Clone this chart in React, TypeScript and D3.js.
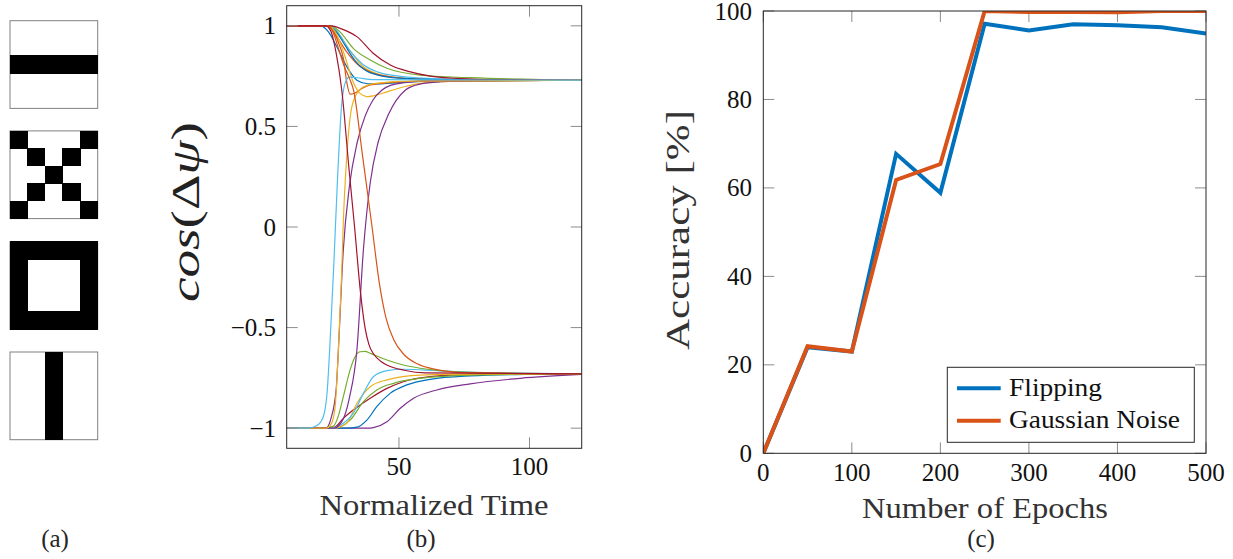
import React from "react";
import * as d3 from "d3";

// ---------- Panel (a): 5x5 binary patterns ----------
const patternBar = [
  [0, 0, 0, 0, 0],
  [0, 0, 0, 0, 0],
  [1, 1, 1, 1, 1],
  [0, 0, 0, 0, 0],
  [0, 0, 0, 0, 0],
];
const patternX = [
  [1, 0, 0, 0, 1],
  [0, 1, 0, 1, 0],
  [0, 0, 1, 0, 0],
  [0, 1, 0, 1, 0],
  [1, 0, 0, 0, 1],
];
const patternSquare = [
  [1, 1, 1, 1, 1],
  [1, 0, 0, 0, 1],
  [1, 0, 0, 0, 1],
  [1, 0, 0, 0, 1],
  [1, 1, 1, 1, 1],
];
const patternVert = [
  [0, 0, 1, 0, 0],
  [0, 0, 1, 0, 0],
  [0, 0, 1, 0, 0],
  [0, 0, 1, 0, 0],
  [0, 0, 1, 0, 0],
];
const patterns = [patternBar, patternX, patternSquare, patternVert];

// ---------- Panel (b): cos(Δψ) vs normalized time ----------
type Pt = [number, number];
const upDarkRed: Pt[] = [[7, 1], [24, 1], [28, 0.985], [34, 0.945], [40, 0.865], [46.7, 0.805], [54, 0.772], [62, 0.75], [72, 0.739], [85, 0.732], [120, 0.73]];
const upGreen: Pt[] = [[7, 1], [24, 1], [27.4, 0.97], [32.5, 0.888], [39, 0.83], [45.4, 0.789], [58.1, 0.755], [77.3, 0.742], [120, 0.73]];
const upBlue: Pt[] = [[7, 1], [23, 1], [26, 0.97], [29.5, 0.9], [33, 0.83], [37, 0.78], [42, 0.755], [50, 0.74], [65, 0.733], [120, 0.73]];
const upLightBlue: Pt[] = [[7, 1], [24, 1], [27, 0.96], [31, 0.88], [36, 0.81], [42, 0.77], [50, 0.75], [65, 0.737], [120, 0.73]];
const upOrangeDip: Pt[] = [[7, 1], [22, 1], [25, 0.97], [27, 0.91], [28.7, 0.838], [30, 0.72], [31.3, 0.66], [33, 0.665], [36, 0.69], [39, 0.706], [45, 0.716], [51.7, 0.722], [65, 0.728], [120, 0.73]];
const upYellowDip: Pt[] = [[7, 1], [23, 1], [26, 0.96], [29, 0.86], [32.5, 0.72], [35.1, 0.664], [37.7, 0.648], [41.5, 0.656], [45.4, 0.672], [52, 0.697], [58.1, 0.714], [70, 0.724], [120, 0.73]];
const upBlueFast: Pt[] = [[7, 1], [20, 1], [23, 0.97], [26.2, 0.896], [30, 0.797], [33.9, 0.73], [38, 0.712], [42, 0.711], [50, 0.718], [65, 0.726], [120, 0.73]];
const upOrange: Pt[] = [[7, 1], [23, 1], [26, 0.95], [30, 0.87], [34, 0.81], [39, 0.77], [46, 0.748], [58, 0.736], [120, 0.73]];
const upYellow: Pt[] = [[7, 1], [24, 1], [27, 0.96], [31, 0.88], [36, 0.8], [42, 0.76], [50, 0.742], [65, 0.733], [120, 0.73]];

const downDarkRed: Pt[] = [[7, 1], [22, 1], [24, 0.97], [26, 0.86], [28.1, 0.68], [31, 0.27], [33, 0], [35.3, -0.33], [37, -0.5], [38.5, -0.585], [40.5, -0.635], [43, -0.667], [46, -0.69], [52, -0.712], [60, -0.725], [120, -0.73]];
const downOrange: Pt[] = [[7, 1], [23, 1], [25, 0.96], [27, 0.88], [29, 0.8], [31, 0.74], [32.6, 0.68], [36, 0.36], [39.5, 0.02], [42.5, -0.28], [45, -0.45], [48, -0.56], [52, -0.635], [57, -0.68], [64, -0.708], [75, -0.724], [120, -0.73]];

const riseLightBlue: Pt[] = [[7, -1], [15, -1], [18, -0.99], [20, -0.97], [21.5, -0.92], [22.5, -0.82], [23.5, -0.6], [25, -0.2], [26.5, 0.25], [28, 0.6], [29.5, 0.72], [31, 0.745], [34, 0.742], [40, 0.733], [120, 0.73]];
const riseYellow: Pt[] = [[7, -1], [22, -1], [24, -0.98], [25.5, -0.9], [26.8, -0.61], [28, -0.25], [28.7, 0.03], [30, 0.35], [32, 0.6], [34.8, 0.68], [37, 0.7], [42, 0.715], [55, 0.725], [120, 0.73]];
const risePurpleA: Pt[] = [[7, -1], [22, -1], [24, -0.95], [26, -0.8], [26.8, -0.61], [28.7, -0.11], [31, 0.2], [34, 0.42], [37, 0.55], [40, 0.63], [43.4, 0.68], [47, 0.705], [52, 0.717], [60, 0.725], [120, 0.73]];
const risePurpleB: Pt[] = [[7, -1], [25, -1], [28, -0.97], [31, -0.85], [33.9, -0.61], [36.4, -0.11], [39, 0.22], [42, 0.42], [46, 0.56], [52.4, 0.68], [58, 0.71], [66, 0.722], [80, 0.728], [120, 0.73]];

const lowGreenPeak: Pt[] = [[7, -1], [21, -1], [24.9, -0.99], [27, -0.93], [28.7, -0.843], [31.3, -0.71], [33, -0.65], [35.1, -0.62], [37, -0.618], [39, -0.628], [45.4, -0.661], [51.7, -0.686], [58.1, -0.702], [70.9, -0.719], [96.5, -0.727], [120, -0.73]];
const lowLightBlue: Pt[] = [[7, -1], [24, -1], [28.7, -0.976], [32.5, -0.926], [36.4, -0.827], [40.2, -0.744], [45.4, -0.714], [51.7, -0.707], [64.5, -0.714], [85, -0.726], [120, -0.73]];
const lowYellow: Pt[] = [[7, -1], [25, -1], [30, -0.976], [33.9, -0.876], [39, -0.794], [45.4, -0.76], [58.1, -0.736], [80, -0.731], [120, -0.73]];
const lowGreen: Pt[] = [[7, -1], [25, -1], [28, -0.99], [31.3, -0.96], [36.4, -0.868], [41.5, -0.81], [47.9, -0.777], [58.1, -0.752], [77.3, -0.736], [120, -0.73]];
const lowDarkRed: Pt[] = [[7, -1], [24, -1], [26, -0.99], [28.7, -0.951], [32.5, -0.91], [39, -0.851], [45.4, -0.802], [51.7, -0.769], [62, -0.744], [80, -0.733], [120, -0.73]];
const lowBlue: Pt[] = [[7, -1], [30, -1], [33.9, -0.995], [37.7, -0.96], [41.5, -0.893], [46.6, -0.827], [53, -0.785], [62, -0.757], [77.3, -0.74], [100, -0.732], [120, -0.73]];
const lowPurple: Pt[] = [[7, -1], [38, -1], [40.2, -0.997], [45.4, -0.968], [50.5, -0.901], [55.6, -0.851], [64.5, -0.81], [77.3, -0.78], [96.5, -0.752], [120, -0.733]];

const C_BLUE = "#0072BD";
const C_ORANGE = "#D95319";
const C_YELLOW = "#EDB120";
const C_PURPLE = "#7E2F8E";
const C_GREEN = "#77AC30";
const C_LBLUE = "#4DBEEE";
const C_DRED = "#A2142F";

const phaseCurves: { pts: Pt[]; color: string }[] = [
  { pts: lowPurple, color: C_PURPLE },
  { pts: lowBlue, color: C_BLUE },
  { pts: lowDarkRed, color: C_DRED },
  { pts: lowGreen, color: C_GREEN },
  { pts: lowYellow, color: C_YELLOW },
  { pts: lowLightBlue, color: C_LBLUE },
  { pts: lowGreenPeak, color: C_GREEN },
  { pts: upYellow, color: C_YELLOW },
  { pts: upOrange, color: C_ORANGE },
  { pts: upLightBlue, color: C_LBLUE },
  { pts: upBlue, color: C_BLUE },
  { pts: upGreen, color: C_GREEN },
  { pts: upBlueFast, color: C_BLUE },
  { pts: upOrangeDip, color: C_ORANGE },
  { pts: upYellowDip, color: C_YELLOW },
  { pts: upDarkRed, color: C_DRED },
  { pts: risePurpleB, color: C_PURPLE },
  { pts: risePurpleA, color: C_PURPLE },
  { pts: riseYellow, color: C_YELLOW },
  { pts: riseLightBlue, color: C_LBLUE },
  { pts: downOrange, color: C_ORANGE },
  { pts: downDarkRed, color: C_DRED },
];

const bXTicks = [50, 100];
const bYTicks = [-1, -0.5, 0, 0.5, 1];

// ---------- Panel (c): accuracy vs epochs ----------
const epochs = [0, 50, 100, 150, 200, 250, 300, 350, 400, 450, 500];
const flipping = [0, 24, 23, 67.7, 58.9, 97.1, 95.6, 97.0, 96.8, 96.3, 94.9];
const gaussian = [0, 24.2, 23, 61.8, 65.4, 100, 99.8, 99.8, 99.7, 100, 100];
const cXTicks = [0, 100, 200, 300, 400, 500];
const cYTicks = [0, 20, 40, 60, 80, 100];
const legendLabels = ["Flipping", "Gaussian Noise"];

const FONT = "Liberation Serif";
const AX = "#262626";
const TICK = "#8c8c8c";

function fmt(v: number) {
  const s = String(v);
  return s.startsWith("-") ? "\u2212" + s.slice(1) : s;
}

function T(props: any) {
  const { children, ...rest } = props;
  return (
    <text {...rest} className="serif-t" fontFamily={FONT}>
      {children}
    </text>
  );
}

export default function App() {
  // panel (a)
  const boxX = 10;
  const boxSize = 87.7;
  const boxTops = [20.7, 130.9, 241.7, 352];
  const cell = d3.scaleLinear().domain([0, 5]).range([0, boxSize]);

  // panel (b)
  const bx = d3.scaleLinear().domain([7, 120]).range([286.7, 581.7]);
  const by = d3.scaleLinear().domain([-1.1, 1.1]).range([448.3, 5.7]);
  const bLine = d3
    .line<Pt>()
    .x((d) => bx(d[0]))
    .y((d) => by(d[1]))
    .curve(d3.curveMonotoneX);

  // panel (c)
  const cx = d3.scaleLinear().domain([0, 500]).range([763.3, 1206]);
  const cy = d3.scaleLinear().domain([0, 100]).range([453.3, 11]);
  const cLine = d3
    .line<number>()
    .x((_, i) => cx(epochs[i]))
    .y((d) => cy(d));

  const tickLen = 11;

  return (
    <svg width={1233} height={559} style={{ position: "absolute", left: 0, top: 0, background: "#fff" }}>
      <style>{`svg text.serif-t, svg text.serif-t tspan { font-family: "Liberation Serif", "Times New Roman" !important; }`}</style>
      <defs>
        <clipPath id="clipB">
          <rect x={bx(7)} y={by(1.1)} width={bx(120) - bx(7)} height={by(-1.1) - by(1.1)} />
        </clipPath>
        <clipPath id="clipC">
          <rect x={cx(0)} y={cy(100)} width={cx(500) - cx(0)} height={cy(0) - cy(100)} />
        </clipPath>
      </defs>

      {/* Panel (a) */}
      {patterns.map((p, k) => (
        <g key={k} transform={`translate(${boxX},${boxTops[k]})`}>
          <rect x={0} y={0} width={boxSize} height={boxSize} fill="#fff" stroke="#808080" strokeWidth={1} />
          {p.map((row, r) =>
            row.map((v, c) =>
              v ? (
                <rect key={`${r}-${c}`} x={cell(c) - 0.4} y={cell(r) - 0.4} width={cell(1) - cell(0) + 0.8} height={cell(1) - cell(0) + 0.8} fill="#000" shapeRendering="crispEdges" />
              ) : null
            )
          )}
        </g>
      ))}
      <T x={55} y={547} fontSize={25} textAnchor="middle" fill={AX}>(a)</T>

      {/* Panel (b) */}
      <g clipPath="url(#clipB)">
        {phaseCurves.map((c, i) => (
          <path key={i} d={bLine(c.pts) || ""} fill="none" stroke={c.color} strokeWidth={1.2} />
        ))}
      </g>
      {bXTicks.map((t) => (
        <g key={"bx" + t}>
          <line x1={bx(t)} x2={bx(t)} y1={by(-1.1)} y2={by(-1.1) - tickLen} stroke={TICK} />
          <line x1={bx(t)} x2={bx(t)} y1={by(1.1)} y2={by(1.1) + tickLen} stroke={TICK} />
          <T x={bx(t)} y={475} fontSize={25} textAnchor="middle" fill="#111">{t}</T>
        </g>
      ))}
      {bYTicks.map((t) => (
        <g key={"by" + t}>
          <line x1={bx(7)} x2={bx(7) + tickLen} y1={by(t)} y2={by(t)} stroke={TICK} />
          <line x1={bx(120)} x2={bx(120) - tickLen} y1={by(t)} y2={by(t)} stroke={TICK} />
          <T x={276} y={by(t) + 8.5} fontSize={25} textAnchor="end" fill="#111">{fmt(t)}</T>
        </g>
      ))}
      <rect x={bx(7)} y={by(1.1)} width={bx(120) - bx(7)} height={by(-1.1) - by(1.1)} fill="none" stroke={AX} strokeWidth={1} />
      <T x={434} y={515} fontSize={30} textAnchor="middle" fill="#333" textLength={229} lengthAdjust="spacingAndGlyphs">Normalized Time</T>
      <T transform="translate(199,212) rotate(-90)" fontSize={40} textAnchor="middle" fill="#222" textLength={180} lengthAdjust="spacingAndGlyphs">
        <tspan fontStyle="italic">cos</tspan>
        <tspan>(Δ</tspan>
        <tspan fontStyle="italic">ψ</tspan>
        <tspan>)</tspan>
      </T>
      <T x={421} y={547} fontSize={25} textAnchor="middle" fill={AX}>(b)</T>

      {/* Panel (c) */}
      {cXTicks.map((t) => (
        <g key={"cx" + t}>
          <line x1={cx(t)} x2={cx(t)} y1={cy(0)} y2={cy(0) - tickLen} stroke={TICK} />
          <line x1={cx(t)} x2={cx(t)} y1={cy(100)} y2={cy(100) + tickLen} stroke={TICK} />
          <T x={cx(t)} y={481} fontSize={25} textAnchor="middle" fill="#111">{t}</T>
        </g>
      ))}
      {cYTicks.map((t) => (
        <g key={"cy" + t}>
          <line x1={cx(0)} x2={cx(0) + tickLen} y1={cy(t)} y2={cy(t)} stroke={TICK} />
          <line x1={cx(500)} x2={cx(500) - tickLen} y1={cy(t)} y2={cy(t)} stroke={TICK} />
          <T x={752} y={cy(t) + 8.5} fontSize={25} textAnchor="end" fill="#111">{t}</T>
        </g>
      ))}
      <g clipPath="url(#clipC)">
        <path d={cLine(flipping) || ""} fill="none" stroke={C_BLUE} strokeWidth={4} strokeLinejoin="miter" />
        <path d={cLine(gaussian) || ""} fill="none" stroke={C_ORANGE} strokeWidth={4} strokeLinejoin="miter" />
      </g>
      <rect x={cx(0)} y={cy(100)} width={cx(500) - cx(0)} height={cy(0) - cy(100)} fill="none" stroke={AX} strokeWidth={1} />

      {/* Legend */}
      <rect x={947.3} y={367.3} width={247} height={75} fill="#fff" stroke={AX} strokeWidth={1} />
      {legendLabels.map((lab, i) => (
        <g key={lab}>
          <line x1={957} x2={1000.7} y1={388.3 + i * 32.4} y2={388.3 + i * 32.4} stroke={i === 0 ? C_BLUE : C_ORANGE} strokeWidth={4} />
          <T x={1009} y={396 + i * 32.4} fontSize={26} fill="#111" textLength={i === 0 ? 93 : 171} lengthAdjust="spacingAndGlyphs">{lab}</T>
        </g>
      ))}

      <T x={985} y={518} fontSize={29} textAnchor="middle" fill="#333" textLength={246} lengthAdjust="spacingAndGlyphs">Number of Epochs</T>
      <T transform="translate(689,230) rotate(-90)" fontSize={34} textAnchor="middle" fill="#333" textLength={240} lengthAdjust="spacingAndGlyphs">Accuracy [%]</T>
      <T x={981} y={547} fontSize={25} textAnchor="middle" fill={AX}>(c)</T>
    </svg>
  );
}
